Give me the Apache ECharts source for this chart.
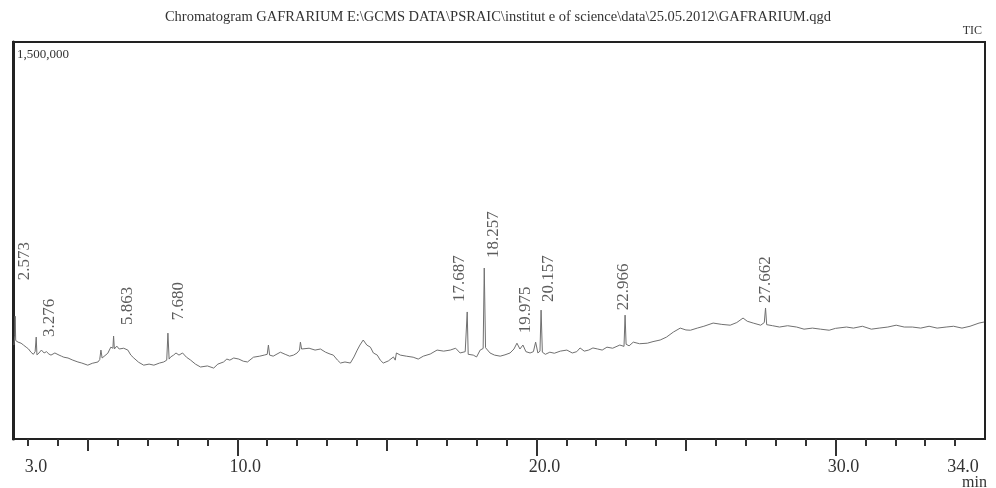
<!DOCTYPE html>
<html>
<head>
<meta charset="utf-8">
<script src="https://cdn.jsdelivr.net/npm/echarts@6/dist/echarts.min.js"></script>
<style>
html,body{margin:0;padding:0;background:#fff;}
#chart{width:996px;height:488px;}
</style>
</head>
<body>
<div id="chart"></div>
<script>
// ---- data ----
var titleText = 'Chromatogram GAFRARIUM E:\\GCMS DATA\\PSRAIC\\institut e of science\\data\\25.05.2012\\GAFRARIUM.qgd';
var times = [2.53,2.56,2.573,2.59,2.67,2.77,2.85,2.94,3.02,3.10,3.18,3.24,3.276,3.30,3.37,3.45,3.54,3.62,3.70,3.77,3.90,4.04,4.12,4.20,4.34,4.50,4.67,4.80,5.00,5.15,5.34,5.40,5.44,5.48,5.54,5.67,5.77,5.84,5.863,5.89,5.97,6.05,6.11,6.20,6.34,6.44,6.54,6.70,6.87,7.05,7.21,7.40,7.54,7.64,7.680,7.72,7.77,7.87,7.95,8.05,8.17,8.30,8.44,8.60,8.77,9.00,9.21,9.35,9.54,9.65,9.75,9.88,10.05,10.20,10.34,10.54,10.75,10.90,11.00,11.04,11.08,11.20,11.44,11.60,11.75,11.88,12.00,12.08,12.11,12.15,12.21,12.40,12.60,12.78,12.95,13.10,13.21,13.35,13.45,13.60,13.78,13.90,14.01,14.10,14.21,14.33,14.45,14.55,14.68,14.78,14.88,15.05,15.22,15.28,15.32,15.45,15.65,15.88,16.05,16.22,16.45,16.68,16.90,17.12,17.30,17.45,17.62,17.687,17.72,17.89,18.00,18.12,18.22,18.257,18.30,18.45,18.60,18.79,18.95,19.12,19.25,19.35,19.45,19.55,19.65,19.79,19.90,19.975,20.05,20.12,20.157,20.20,20.30,20.45,20.60,20.80,21.02,21.20,21.35,21.46,21.60,21.75,21.89,22.05,22.20,22.36,22.55,22.79,22.93,22.966,23.00,23.10,23.24,23.45,23.71,23.90,24.14,24.35,24.58,24.81,25.00,25.15,25.38,25.60,25.91,26.20,26.48,26.70,26.91,27.05,27.25,27.50,27.62,27.662,27.70,27.90,28.13,28.40,28.70,28.95,29.23,29.50,29.79,30.00,30.37,30.60,30.90,31.20,31.46,31.75,32.03,32.30,32.57,32.85,33.13,33.40,33.70,33.95,34.23,34.50,34.80,34.97];
var tic = [355000,390000,464000,372000,366000,362000,355000,347000,340000,328000,320000,330000,385000,318000,325000,336000,325000,330000,321000,317000,325000,317000,313000,309000,306000,298000,291000,287000,279000,286000,291000,300000,336000,306000,313000,324000,347000,343000,389000,340000,351000,340000,347000,343000,336000,317000,306000,290000,279000,283000,279000,287000,291000,298000,400000,302000,310000,317000,325000,317000,325000,309000,298000,283000,272000,276000,268000,283000,291000,302000,298000,306000,302000,294000,291000,309000,313000,317000,320000,355000,317000,313000,328000,320000,313000,317000,325000,336000,366000,340000,347000,343000,336000,340000,328000,321000,317000,298000,287000,291000,287000,310000,336000,355000,374000,355000,347000,325000,317000,298000,287000,295000,310000,298000,325000,317000,313000,309000,302000,313000,321000,336000,332000,336000,343000,325000,330000,480000,320000,317000,310000,336000,342000,646000,345000,325000,317000,313000,318000,325000,340000,362000,340000,355000,330000,325000,330000,366000,325000,332000,487000,328000,320000,328000,324000,332000,336000,325000,330000,344000,332000,336000,344000,340000,336000,347000,343000,355000,350000,468000,358000,352000,366000,360000,362000,368000,374000,385000,404000,419000,412000,411000,419000,426000,438000,433000,430000,440000,457000,445000,438000,430000,440000,495000,432000,428000,423000,428000,423000,415000,419000,415000,411000,418000,423000,419000,426000,415000,419000,423000,430000,423000,423000,419000,426000,419000,423000,426000,419000,426000,438000,442000];
var peakTimes = [2.573,3.276,5.863,7.680,17.687,18.257,19.975,20.157,22.966,27.662];
var peakHeights = [464000,385000,389000,400000,480000,646000,366000,487000,468000,495000];
var minorTicks = [3,4,5,6,7,8,9,10,11,12,13,14,15,16,17,18,19,20,21,22,23,24,25,26,27,28,29,30,31,32,33,34];
var midTicks = [5,15,25];
var majorTicks = [10,20,30];
var xLabels = [3,10,20,30,34];
var yLabels = [1500000];

// ---- label placement (style only; screen px) ----
var labelDx = [9,13,14,11,-8,9,-10,7,-2,0];
var labelGap = [36,0,11,13,10,10,9,8,5,5];

var serif = '"Liberation Serif","DejaVu Serif",serif';
var chart = echarts.init(document.getElementById('chart'), null, {renderer:'canvas'});

function baseX(extra){
  var o = {type:'value', min:2.5, max:35, position:'bottom', splitLine:{show:false}};
  for (var k in extra) o[k] = extra[k];
  return o;
}

var option = {
  animation:false,
  backgroundColor:'#fff',
  title:[{
    text:titleText, left:'center', top:10, padding:0,
    textStyle:{fontFamily:serif, fontSize:14.5, fontWeight:'normal', color:'#333'}
  },{
    text:'TIC', right:14, top:25, padding:0,
    textStyle:{fontFamily:serif, fontSize:12, fontWeight:'normal', color:'#333'}
  }],
  graphic:[{
    type:'text', right:9, bottom:-3,
    style:{text:'min', font:'16px ' + serif, fill:'#333'}
  }],
  grid:{left:13, right:11, top:42, bottom:49, show:true, borderColor:'#222', borderWidth:2, containLabel:false},
  xAxis:[
    baseX({
      axisLine:{show:true, lineStyle:{color:'#222', width:2}},
      axisTick:{show:true, customValues:minorTicks, length:7, lineStyle:{color:'#333', width:2}},
      axisLabel:{show:true, customValues:xLabels, margin:19, fontFamily:serif, fontSize:18, color:'#333',
        padding:[0,0,0,16], formatter:function(v){return v.toFixed(1);}}
    }),
    baseX({
      axisLine:{show:false},
      axisTick:{show:true, customValues:midTicks, length:12, lineStyle:{color:'#333', width:2}},
      axisLabel:{show:false}
    }),
    baseX({
      axisLine:{show:false},
      axisTick:{show:true, customValues:majorTicks, length:17, lineStyle:{color:'#333', width:2}},
      axisLabel:{show:false}
    })
  ],
  yAxis:{
    type:'value', min:0, max:1500000, splitLine:{show:false},
    axisLine:{show:true, lineStyle:{color:'#222', width:3}},
    axisTick:{show:false},
    axisLabel:{show:true, inside:true, customValues:yLabels, margin:4, verticalAlign:'top',
      fontFamily:serif, fontSize:13, color:'#333', padding:[6,0,0,0],
      formatter:function(v){return v.toLocaleString('en-US');}}
  },
  series:[{
    type:'line', xAxisIndex:0,
    data:times.map(function(t,i){return [t, tic[i]];}),
    showSymbol:false, symbol:'none',
    lineStyle:{color:'#707070', width:1},
    z:3
  },{
    type:'scatter', xAxisIndex:0,
    data:peakTimes.map(function(t,i){return [t, peakHeights[i]];}),
    symbolSize:0,
    silent:true,
    label:{
      show:true, position:'top', distance:0, rotate:90, align:'left', verticalAlign:'middle',
      fontFamily:serif, fontSize:17, color:'#333',
      formatter:function(p){return p.value[0].toFixed(3);}
    },
    // labelLayout offsets act in the label's rotated frame:
    // local dx runs upward on screen, local dy runs rightward.
    labelLayout:function(p){
      return {dx:labelGap[p.dataIndex], dy:labelDx[p.dataIndex]};
    },
    z:4
  }]
};
chart.setOption(option);
</script>
</body>
</html>
